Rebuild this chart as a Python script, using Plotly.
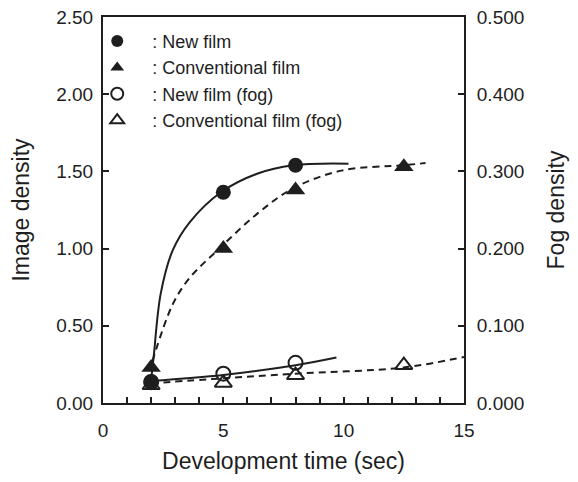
import plotly.graph_objects as go

# ---- data ----
times = [2, 5, 8]
times_conv = [2, 5, 8, 12.5]
new_film = [0.14, 1.365, 1.54]
conv_film = [0.23, 1.00, 1.38, 1.53]
new_fog = [0.027, 0.038, 0.052]
conv_fog = [0.023, 0.026, 0.036, 0.049]

# fitted curves
new_curve_x = [2.0, 2.1, 2.4, 2.9, 3.6, 4.9, 6.4, 7.9, 10.2]
new_curve_y = [0.15, 0.29, 0.71, 0.99, 1.17, 1.365, 1.485, 1.54, 1.55]
conv_curve_x = [2.05, 2.9, 3.6, 4.9, 6.4, 7.9, 9.9, 12.5, 13.4]
conv_curve_y = [0.27, 0.64, 0.81, 1.01, 1.225, 1.39, 1.505, 1.54, 1.554]
new_fog_curve_x = [2.0, 5.0, 8.0, 9.7]
new_fog_curve_y = [0.0286, 0.0364, 0.049, 0.059]
conv_fog_curve_x = [2.0, 5.0, 8.0, 12.5, 15.0]
conv_fog_curve_y = [0.0256, 0.032, 0.038, 0.046, 0.0597]

PAD = "\u00a0\u00a0\u00a0"
legend_names = [PAD + ": New film", PAD + ": Conventional film",
                PAD + ": New film (fog)", PAD + ": Conventional film (fog)"]
x_ticks = [0, 5, 10, 15]
y_ticks = [0, 0.5, 1.0, 1.5, 2.0, 2.5]
y2_ticks = [0, 0.1, 0.2, 0.3, 0.4, 0.5]

INK = "#1e1e1e"
FONT = "Liberation Sans"

fig = go.Figure()

# curves
fig.add_trace(go.Scatter(x=new_curve_x, y=new_curve_y, mode="lines", line=dict(color=INK, width=2, shape="spline"),
                         showlegend=False, hoverinfo="skip"))
fig.add_trace(go.Scatter(x=conv_curve_x, y=conv_curve_y, mode="lines",
                         line=dict(color=INK, width=2, shape="spline", dash="7px,5px"),
                         showlegend=False, hoverinfo="skip"))
fig.add_trace(go.Scatter(x=new_fog_curve_x, y=new_fog_curve_y, mode="lines", yaxis="y2",
                         line=dict(color=INK, width=2, shape="spline"), showlegend=False, hoverinfo="skip"))
fig.add_trace(go.Scatter(x=conv_fog_curve_x, y=conv_fog_curve_y, mode="lines", yaxis="y2",
                         line=dict(color=INK, width=2, shape="spline", dash="7px,5px"),
                         showlegend=False, hoverinfo="skip"))

# markers
fig.add_trace(go.Scatter(x=times_conv, y=conv_fog, mode="markers", yaxis="y2", name=legend_names[3],
                         legendrank=4, legendgroup="d",
                         marker=dict(symbol="triangle-up-open", size=15, color=INK, line=dict(width=2, color=INK))))
fig.add_trace(go.Scatter(x=times, y=new_fog, mode="markers", yaxis="y2", name=legend_names[2],
                         legendrank=3, legendgroup="c",
                         marker=dict(symbol="circle-open", size=14, color=INK, line=dict(width=2, color=INK))))
fig.add_trace(go.Scatter(x=times, y=new_film, mode="markers", name=legend_names[0],
                         legendrank=1, legendgroup="a",
                         marker=dict(symbol="circle", size=15, color=INK, line=dict(width=0))))
fig.add_trace(go.Scatter(x=times_conv, y=conv_film, mode="markers", name=legend_names[1],
                         legendrank=2, legendgroup="b",
                         marker=dict(symbol="triangle-up", size=17, color=INK, line=dict(width=0))))

fig.update_layout(
    width=562, height=466,
    margin=dict(l=95, r=106, t=9, b=71, autoexpand=False),
    paper_bgcolor="white", plot_bgcolor="white",
    font=dict(family=FONT, size=19, color=INK),
    showlegend=True,
    legend=dict(x=-0.016, y=0.985, xanchor="left", yanchor="top", bgcolor="rgba(0,0,0,0)",
                font=dict(size=18), tracegroupgap=0, itemwidth=30, itemsizing="constant"),
    xaxis=dict(range=[0, 15], tickvals=x_ticks, ticks="inside", ticklen=6, tickwidth=1.5, tickcolor=INK,
               minor=dict(dtick=1, ticks="inside", ticklen=6, tickwidth=1.5, tickcolor=INK),
               showline=True, linewidth=2, linecolor=INK, mirror=True, showgrid=False, zeroline=False,
               ticklabelstandoff=9, automargin=True, ticklabeloverflow="allow",
               title=dict(text="Development time (sec)", standoff=15)),
    yaxis=dict(range=[0, 2.5], tickvals=y_ticks, tickformat=".2f", ticks="inside", ticklen=6, tickwidth=1.5,
               tickcolor=INK, showline=True, linewidth=2, linecolor=INK, showgrid=False, zeroline=False,
               ticklabelstandoff=4, automargin=True, ticklabeloverflow="allow",
               title=dict(text="Image density", standoff=25)),
    yaxis2=dict(range=[0, 0.5], tickvals=y2_ticks, tickformat=".3f", ticks="inside", ticklen=6, tickwidth=1.5,
                tickcolor=INK, overlaying="y", side="right", showline=True, linewidth=2, linecolor=INK,
                showgrid=False, zeroline=False, ticklabelstandoff=7, automargin=True,
                ticklabeloverflow="allow",
                title=dict(text="Fog density", standoff=25)),
)

fig.write_html("out.html")
